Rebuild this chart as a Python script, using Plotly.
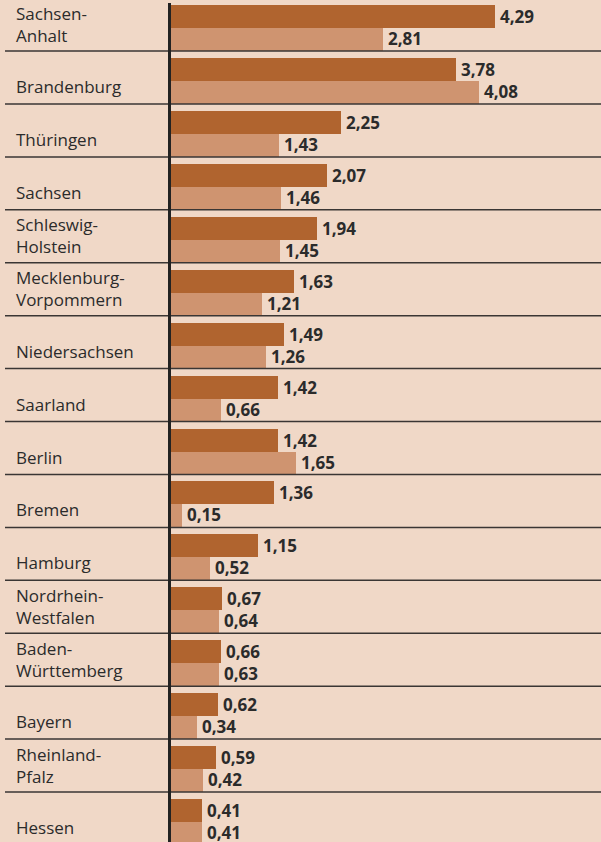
import plotly.graph_objects as go

categories = ["Sachsen-Anhalt", "Brandenburg", "Thüringen", "Sachsen", "Schleswig-Holstein",
              "Mecklenburg-Vorpommern", "Niedersachsen", "Saarland", "Berlin", "Bremen",
              "Hamburg", "Nordrhein-Westfalen", "Baden-Württemberg", "Bayern",
              "Rheinland-Pfalz", "Hessen"]
label_text = ["Sachsen-<br>Anhalt", "Brandenburg", "Thüringen", "Sachsen",
              "Schleswig-<br>Holstein", "Mecklenburg-<br>Vorpommern", "Niedersachsen",
              "Saarland", "Berlin", "Bremen", "Hamburg", "Nordrhein-<br>Westfalen",
              "Baden-<br>Württemberg", "Bayern", "Rheinland-<br>Pfalz", "Hessen"]
series_a = [4.29, 3.78, 2.25, 2.07, 1.94, 1.63, 1.49, 1.42, 1.42, 1.36, 1.15, 0.67, 0.66, 0.62, 0.59, 0.41]
series_b = [2.81, 4.08, 1.43, 1.46, 1.45, 1.21, 1.26, 0.66, 1.65, 0.15, 0.52, 0.64, 0.63, 0.34, 0.42, 0.41]

W, H = 601, 842
BG = "#f0d8c7"
DARK = "#b0642f"
LIGHT = "#cf9470"
TXT = "#2b2b2b"

px_per_unit = 75.5
x0px = 171
band = 52.93
top_px = -1.9
xr = [-x0px / px_per_unit, (W - x0px) / px_per_unit]
yr = [(H - top_px) / band - 0.5, -top_px / band - 0.5]

bar_w = 23 / band
off_a = -0.5 + 7 / band
off_b = off_a + bar_w

idx = list(range(len(categories)))

fig = go.Figure()
fig.add_trace(go.Bar(x=series_a, y=idx, orientation="h", width=bar_w, offset=off_a,
                     marker=dict(color=DARK, line=dict(width=0)), name="a",
                     hovertext=categories))
fig.add_trace(go.Bar(x=series_b, y=idx, orientation="h", width=bar_w, offset=off_b,
                     marker=dict(color=LIGHT, line=dict(width=0)), name="b",
                     hovertext=categories))

def fmt(v):
    return f"{v:.2f}".replace(".", ",")

annotations = []
for i in idx:
    for v, off, ys in ((series_a[i], off_a, 0), (series_b[i], off_b, 1)):
        annotations.append(dict(x=v, y=i + off + bar_w / 2, xref="x", yref="y",
                                text=fmt(v), showarrow=False, xanchor="left",
                                yanchor="middle", xshift=3, yshift=ys,
                                font=dict(family="Open Sans", size=17, color=TXT, weight="bold")))
    t = label_text[i]
    yy = i + 9 / band if "<br>" not in t else i - 0.5 / band
    annotations.append(dict(x=14 / W, y=yy, xref="paper", yref="y", text=t,
                            showarrow=False, xanchor="left", yanchor="middle", align="left",
                            font=dict(family="Open Sans", size=17, color=TXT)))

shapes = []
for i in idx[:-1]:
    shapes.append(dict(type="line", xref="paper", yref="y", x0=5 / W, x1=1,
                       y0=i + 0.5, y1=i + 0.5, line=dict(color="#3a3634", width=1.5),
                       layer="above"))
shapes.append(dict(type="line", xref="x", yref="paper", x0=-1.5 / px_per_unit,
                   x1=-1.5 / px_per_unit, y0=0, y1=1 - 3 / H,
                   line=dict(color="#222222", width=3), layer="above"))

fig.update_layout(
    width=W, height=H, margin=dict(l=0, r=0, t=0, b=0),
    paper_bgcolor=BG, plot_bgcolor=BG, showlegend=False,
    xaxis=dict(range=xr, visible=False, showgrid=False, zeroline=False, fixedrange=True),
    yaxis=dict(range=yr, visible=False, showgrid=False, zeroline=False, fixedrange=True),
    annotations=annotations, shapes=shapes, bargap=0,
)

fig.write_html("out.html", config={"displayModeBar": False},
               post_script="document.body.style.margin='0';document.body.style.overflow='hidden';")
